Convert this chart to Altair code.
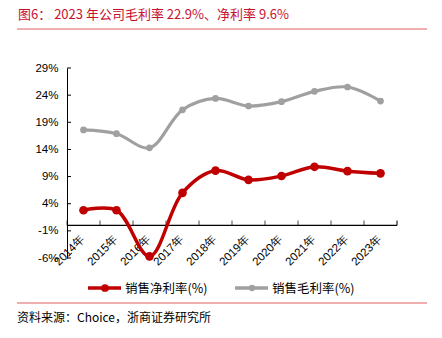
import altair as alt
import pandas as pd

years = ["2014年", "2015年", "2016年", "2017年", "2018年", "2019年", "2020年", "2021年", "2022年", "2023年"]
net_margin = [2.8, 2.8, -5.7, 6.0, 10.1, 8.4, 9.1, 10.8, 10.0, 9.6]
gross_margin = [17.6, 16.9, 14.3, 21.3, 23.4, 22.0, 22.8, 24.7, 25.5, 22.9]
series_names = ["销售净利率(%)", "销售毛利率(%)"]
y_ticks = [-6, -1, 4, 9, 14, 19, 24, 29]
title_text = "图6：  2023 年公司毛利率 22.9%、净利率 9.6%"
source_text = "资料来源：Choice，浙商证券研究所"

RED = "#c00000"
GRAY = "#a0a0a0"
TITLE_RED = "#c8102e"
CJK = "Noto Sans CJK SC"
LAT = "Liberation Sans"

rows = []
for y, v in zip(years, net_margin):
    rows.append({"year": y, "series": series_names[0], "value": v})
for y, v in zip(years, gross_margin):
    rows.append({"year": y, "series": series_names[1], "value": v})
df = pd.DataFrame(rows)

W, H = 330, 190

xscale = alt.Scale(type="band", domain=years, paddingInner=0, paddingOuter=0)
yscale = alt.Scale(domain=[-6, 29], nice=False, zero=False)
cscale = alt.Scale(domain=series_names, range=[RED, GRAY])

x_axis = alt.Axis(title=None, domain=False, ticks=False, grid=False,
                  labelAngle=-45, labelAlign="right", labelBaseline="middle",
                  labelPadding=12, offset=-33, labelFont=LAT, labelFontSize=11.5,
                  labelColor="#000000", labelOverlap=False, labelBound=False)
y_axis = alt.Axis(title=None, values=y_ticks, ticks=False, grid=False,
                  labelExpr="datum.value + '%'", labelFont=LAT, labelFontSize=11.5,
                  labelColor="#000000", labelPadding=9, domainColor="#000000",
                  domainWidth=1, labelOverlap=False, labelBound=False)


def X(field="year:N", **kw):
    return alt.X(field, scale=xscale, sort=years, axis=x_axis, **kw)


def Y(field="value:Q"):
    return alt.Y(field, scale=yscale, axis=y_axis)


base = alt.Chart(df)

# x axis line at zero
zero_line = alt.Chart(pd.DataFrame({"z": [0]})).mark_rule(color="#000000", strokeWidth=1.3).encode(
    y=Y("z:Q"), x=alt.value(0), x2=alt.value(W))

# inward ticks
ytick_df = pd.DataFrame({"t": y_ticks})
yticks = alt.Chart(ytick_df).mark_rule(color="#000000", strokeWidth=1).encode(
    y=Y("t:Q"), x=alt.value(0), x2=alt.value(4))
xtick_df = pd.DataFrame({"year": years, "z": [0] * len(years)})
xticks = alt.Chart(xtick_df).mark_tick(orient="vertical", size=5, color="#000000", thickness=1).encode(
    x=X(bandPosition=0), y=Y("z:Q"), yOffset=alt.value(-2.5))
xtick_end = alt.Chart(xtick_df.tail(1)).mark_tick(orient="vertical", size=5, color="#000000", thickness=1.5).encode(
    x=X(bandPosition=1), y=Y("z:Q"), yOffset=alt.value(-2.5))

color = alt.Color("series:N", scale=cscale, legend=None)
gray_line = base.transform_filter(alt.datum.series == series_names[1]).mark_line(
    interpolate="catmull-rom", strokeWidth=3.2).encode(x=X(), y=Y(), color=color)
gray_pts = base.transform_filter(alt.datum.series == series_names[1]).mark_circle(
    size=45, opacity=1).encode(x=X(), y=Y(), color=color)
red_line = base.transform_filter(alt.datum.series == series_names[0]).mark_line(
    interpolate="catmull-rom", strokeWidth=3.5).encode(x=X(), y=Y(), color=color)
red_pts = base.transform_filter(alt.datum.series == series_names[0]).mark_circle(
    size=75, opacity=1).encode(x=X(), y=Y(), color=color)

# title and separator lines
title = alt.Chart(pd.DataFrame({"t": [title_text]})).mark_text(
    align="left", baseline="middle", font=CJK, fontSize=13, color=TITLE_RED).encode(
    text="t:N", x=alt.value(-49), y=alt.value(-53))
top_rule = alt.Chart(pd.DataFrame({"t": [0]})).mark_rule(color="#e06060", strokeWidth=1.2).encode(
    x=alt.value(-50), x2=alt.value(360), y=alt.value(-39))
bot_rule = alt.Chart(pd.DataFrame({"t": [0]})).mark_rule(color="#e06060", strokeWidth=1.2).encode(
    x=alt.value(-50), x2=alt.value(360), y=alt.value(235))
source = alt.Chart(pd.DataFrame({"t": [source_text]})).mark_text(
    align="left", baseline="middle", font=CJK, fontSize=12, color="#000000").encode(
    text="t:N", x=alt.value(-50), y=alt.value(250))

# legend drawn manually (pixel positions, no scales)
leg_df = pd.DataFrame({"name": series_names, "x0": [21, 168]})
leg_df["x1"] = leg_df["x0"] + 33
leg_df["xc"] = leg_df["x0"] + 17
leg_df["xt"] = leg_df["x0"] + 37
leg_y = 220
leg_color = alt.Color("name:N", scale=cscale, legend=None)
leg_rule = alt.Chart(leg_df).mark_rule(strokeWidth=3.5).encode(
    x=alt.X("x0:Q", scale=None), x2="x1:Q", y=alt.value(leg_y), color=leg_color)
leg_dot = alt.Chart(leg_df).mark_circle(opacity=1).encode(
    x=alt.X("xc:Q", scale=None), y=alt.value(leg_y),
    size=alt.Size("name:N", scale=alt.Scale(domain=series_names, range=[60, 40]), legend=None),
    color=leg_color)
leg_text = alt.Chart(leg_df).mark_text(align="left", baseline="middle", font=CJK, fontSize=12.5,
                                       color="#000000").encode(
    x=alt.X("xt:Q", scale=None), y=alt.value(leg_y + 1), text="name:N")

legend = alt.layer(leg_rule, leg_dot, leg_text)

main = alt.layer(gray_line, zero_line, yticks, xticks, xtick_end, gray_pts, red_line, red_pts,
                 title, top_rule, bot_rule, source)

chart = alt.layer(main, legend).resolve_scale(x="independent").resolve_axis(x="independent").properties(
    width=W, height=H,
    autosize=alt.AutoSizeParams(type="none"),
    padding={"left": 67, "top": 68, "right": 45, "bottom": 80},
    background="#ffffff",
).configure_view(stroke=None)

chart.save("out.html", embed_options={"renderer": "svg", "actions": False})
